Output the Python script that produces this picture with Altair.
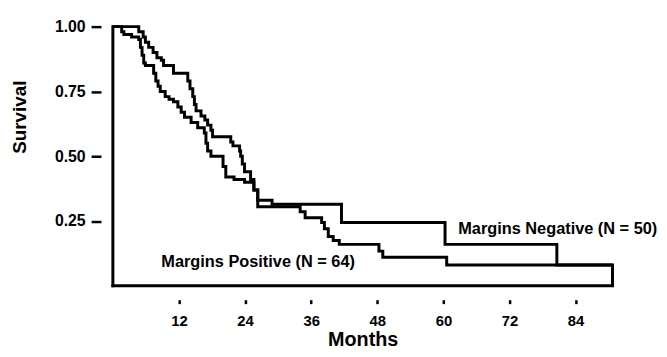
import altair as alt
import pandas as pd

# Kaplan-Meier step points (months, survival)
neg_months = [0, 4.7, 5.5, 5.9, 6.5, 7.3, 8.0, 8.8, 9.2, 11.0, 13.6, 14.0, 14.5, 14.8, 15.1, 16.0,
              16.7, 17.2, 17.8, 18.1, 21.4, 21.8, 23.0, 23.2, 23.5, 23.9, 25.0, 25.6, 26.3, 28.9,
              41.5, 60.3, 80.6, 90.7]
neg_surv = [1.00, 0.98, 0.96, 0.94, 0.92, 0.90, 0.88, 0.87, 0.85, 0.82, 0.79, 0.76, 0.73, 0.70, 0.675, 0.655,
            0.64, 0.62, 0.60, 0.575, 0.555, 0.54, 0.52, 0.50, 0.47, 0.44, 0.41, 0.37, 0.33, 0.315,
            0.244, 0.16, 0.08, 0.08]

pos_months = [0, 1.6, 2.0, 3.4, 4.7, 5.0, 5.3, 5.6, 5.9, 7.4, 7.8, 8.2, 8.6, 9.5, 10.2, 11.0, 11.8,
              12.4, 13.0, 14.2, 15.4, 16.6, 16.9, 17.2, 17.8, 20.0, 20.5, 22.0, 23.9, 25.6, 26.3,
              34.0, 34.9, 37.9, 38.4, 39.1, 40.0, 41.1, 48.3, 49.0, 60.6, 90.7]
pos_surv = [1.00, 0.98, 0.97, 0.96, 0.95, 0.92, 0.89, 0.86, 0.85, 0.82, 0.79, 0.77, 0.75, 0.73, 0.72, 0.71, 0.69,
            0.67, 0.65, 0.63, 0.61, 0.59, 0.55, 0.52, 0.50, 0.46, 0.42, 0.41, 0.40, 0.37, 0.305,
            0.286, 0.263, 0.244, 0.22, 0.19, 0.175, 0.16, 0.134, 0.11, 0.08, 0.0]

x_ticks = [12, 24, 36, 48, 60, 72, 84]
y_ticks = [0.25, 0.50, 0.75, 1.00]
x_max = 90.7

label_text = ["Margins Negative (N = 50)", "Margins Positive (N = 64)"]
label_month = [62.7, 8.8]
label_surv = [0.22, 0.092]

FONT = "Liberation Sans"

df = pd.DataFrame({
    "month": neg_months + pos_months,
    "surv": neg_surv + pos_surv,
    "group": ["Negative"] * len(neg_months) + ["Positive"] * len(pos_months),
})
labels = pd.DataFrame({"month": label_month, "surv": label_surv, "label": label_text})
axes_df = pd.DataFrame({"month": [0, 0], "month2": [x_max, 0], "surv": [0, 0], "surv2": [0, 1]})

xscale = alt.Scale(domain=[0, x_max], nice=False, zero=False)
yscale = alt.Scale(domain=[0, 1], nice=False)

x_axis = alt.Axis(values=x_ticks, title="Months", domain=False, grid=False, offset=14,
                  tickSize=4, tickWidth=2.5, tickColor="black", labelPadding=10,
                  labelFont=FONT, labelFontSize=15, labelFontWeight="bold", labelColor="black",
                  titleFont=FONT, titleFontSize=20, titleFontWeight="bold", titleColor="black",
                  titlePadding=1)
y_axis = alt.Axis(values=y_ticks, format=".2f", title="Survival", domain=False, grid=False, offset=12,
                  tickSize=10, tickWidth=2.5, tickColor="black", labelPadding=6,
                  labelFont=FONT, labelFontSize=16, labelFontWeight="bold", labelColor="black",
                  titleFont=FONT, titleFontSize=19, titleFontWeight="bold", titleColor="black",
                  titleAngle=270, titleAlign="center", titleBaseline="middle", titleX=-82, titleY=91)

lines = alt.Chart(df).mark_line(interpolate="step-after", color="black", strokeWidth=3,
                                strokeJoin="miter").encode(
    x=alt.X("month:Q", scale=xscale, axis=x_axis),
    y=alt.Y("surv:Q", scale=yscale, axis=y_axis),
    detail="group:N",
)

axis_lines = alt.Chart(axes_df).mark_rule(color="black", strokeWidth=3, strokeCap="square").encode(
    x="month:Q", x2="month2:Q", y="surv:Q", y2="surv2:Q"
)

texts = alt.Chart(labels).mark_text(align="left", baseline="middle", font=FONT, fontSize=16.5,
                                    fontWeight="bold", color="black").encode(
    x="month:Q", y="surv:Q", text="label:N"
)

chart = alt.layer(axis_lines, lines, texts).properties(
    width=505, height=262,
    autosize=alt.AutoSizeParams(type="none"),
    padding={"left": 106, "top": 17, "right": 47, "bottom": 62},
    background="white",
).configure_view(stroke=None)

chart.save("out.html", embed_options={"renderer": "svg", "actions": False})
